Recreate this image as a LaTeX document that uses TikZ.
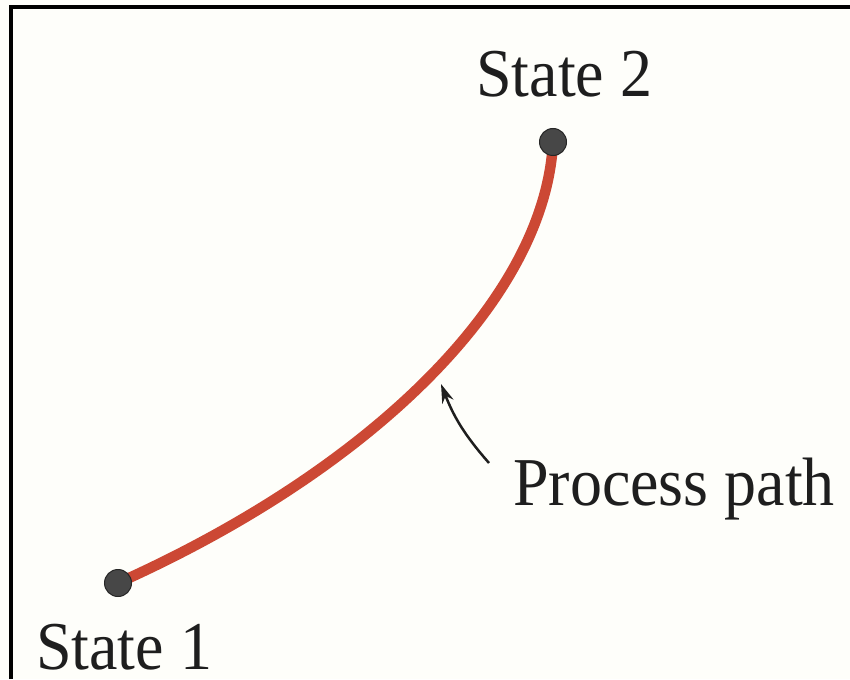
\documentclass[tikz,border=0pt]{standalone}
\usepackage{fontspec}
\setmainfont{Liberation Serif}
\usetikzlibrary{arrows.meta}
\definecolor{fundo}{RGB}{254,254,250}
\definecolor{trajeto}{RGB}{204,72,52}
\definecolor{tinta}{RGB}{30,30,30}
\tikzset{
    estado/.style={circle, fill=black!72, draw=black!85, line width=1pt, minimum size=27pt, inner sep=0pt},
    rotulo/.style={font=\fontsize{64}{70}\selectfont, text=tinta, inner sep=0pt, anchor=base west, yscale=1.07},
    processo/.style={draw=trajeto, line width=10.5pt},
    seta/.style={-{Stealth[length=19pt,width=12pt]}, line width=2.5pt, draw=tinta},
    moldura/.style={line width=4pt, draw=black}
}

\begin{document}
\begin{tikzpicture}[x=1pt, y=-1pt]
    \path[use as bounding box, fill=fundo] (0,0) rectangle (850,679);
    \draw[moldura] (11,679) -- (11,7) -- (850,7);
    \coordinate (p1) at (118,583);
    \coordinate (p2) at (553,142);
    \draw[processo] (p1) .. controls (370,470) and (545,300) .. (p2);
    \node[estado] (s1) at (p1) {};
    \node[estado] (s2) at (p2) {};
    \node[rotulo] (l1) at (36,669) {State 1};
    \node[rotulo] (l2) at (476,97) {State 2};
    \node[rotulo] (lp) at (513,505) {Process path};
    \coordinate (ponta) at (441,384);
    \coordinate (cauda) at (489,463);
    \draw[seta] (cauda) to[bend left=10] (ponta);
\end{tikzpicture}
\end{document}
